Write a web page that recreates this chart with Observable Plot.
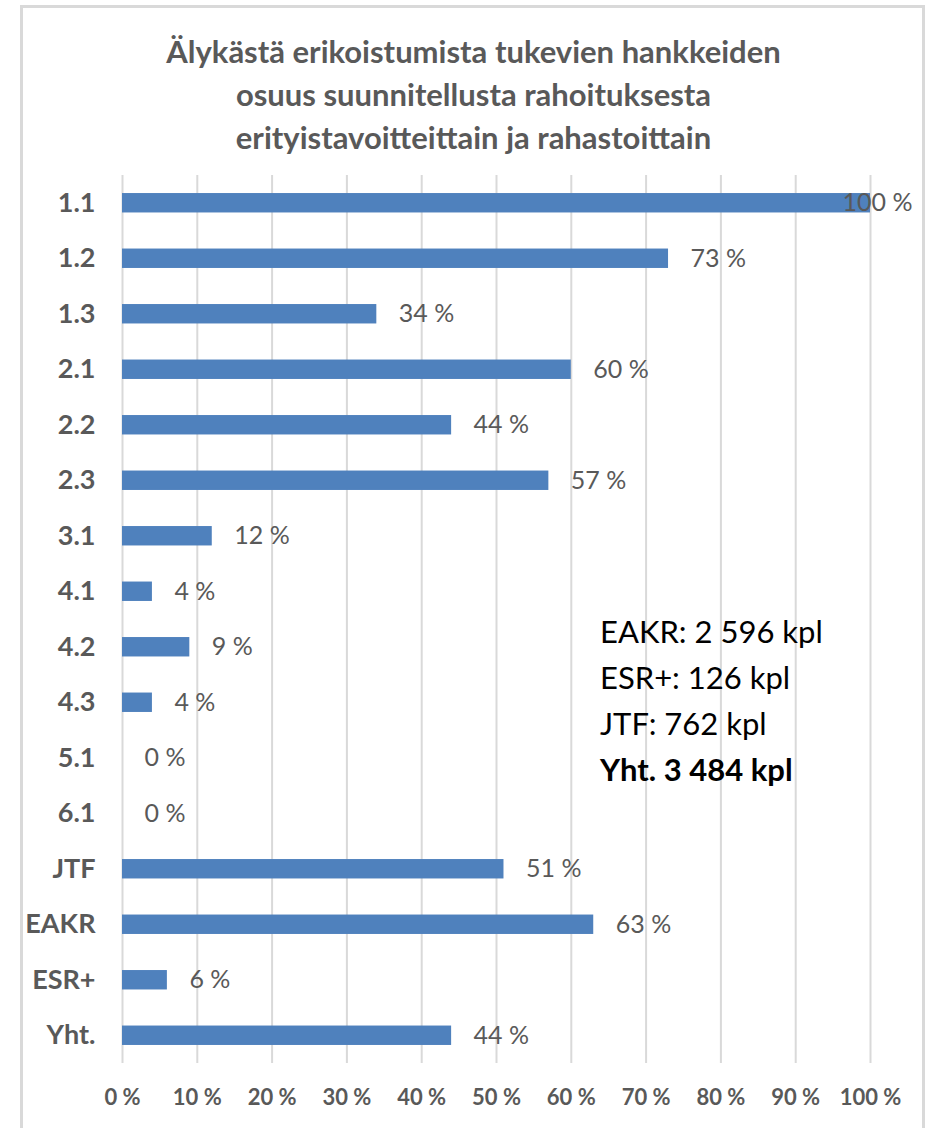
<!DOCTYPE html>
<html>
<head>
<meta charset="utf-8">
<script src="https://cdn.jsdelivr.net/npm/d3@7"></script>
<script src="https://cdn.jsdelivr.net/npm/@observablehq/plot@0.6"></script>
<style>
  html, body { margin: 0; padding: 0; background: #fff; }
  #page { position: relative; width: 935px; height: 1128px; overflow: hidden; font-family: Lato, "Open Sans", sans-serif; }
  #frame { position: absolute; left: 20px; top: 5px; width: 905px; height: 1140px; border: 3px solid #d9d9d9; box-sizing: border-box; }
  #title { position: absolute; left: 22px; width: 903px; top: 30px; text-align: center; font-weight: bold; font-size: 31px; line-height: 43px; color: #595959; }
  #chart { position: absolute; left: 0; top: 165px; }
  #note { position: absolute; left: 600px; top: 608px; font-size: 31px; line-height: 46px; color: #000; }
</style>
</head>
<body>
<div id="page">
  <div id="frame"></div>
  <div id="title">Älykästä erikoistumista tukevien hankkeiden<br>osuus suunnitellusta rahoituksesta<br>erityistavoitteittain ja rahastoittain</div>
  <div id="chart"></div>
  <div id="note">EAKR: 2 596 kpl<br>ESR+: 126 kpl<br>JTF: 762 kpl<br><b>Yht. 3 484 kpl</b></div>
</div>
<script>
const categories = ["1.1","1.2","1.3","2.1","2.2","2.3","3.1","4.1","4.2","4.3","5.1","6.1","JTF","EAKR","ESR+","Yht."];
const values = [100,73,34,60,44,57,12,4,9,4,0,0,51,63,6,44];
const tickValues = [0,10,20,30,40,50,60,70,80,90,100];

const data = categories.map((c, i) => ({cat: c, value: values[i]}));

const chart = Plot.plot({
  width: 935,
  height: 953,
  marginLeft: 122,
  marginRight: 65,
  marginTop: 10,
  marginBottom: 55,
  style: {fontFamily: "Lato, 'Open Sans', sans-serif", color: "#595959", background: "transparent"},
  x: {domain: [0, 100], label: null},
  y: {domain: categories, paddingInner: 0.65, paddingOuter: 0.325, round: false, label: null},
  marks: [
    Plot.gridX(tickValues, {stroke: "#d9d9d9", strokeWidth: 2, strokeOpacity: 1}),
    Plot.barX(data, {x: "value", y: "cat", fill: "#4f81bd"}),
    Plot.text(data.filter(d => d.value < 100), {x: "value", y: "cat", text: d => d.value + " %", textAnchor: "start", dx: 22, fill: "#595959", fontSize: 25}),
    Plot.text(data.filter(d => d.value >= 100), {x: "value", y: "cat", text: d => d.value + " %", textAnchor: "end", dx: 42, fill: "#595959", fontSize: 25}),
    Plot.axisX(tickValues, {tickSize: 0, tickPadding: 26, tickFormat: d => d + " %", fontSize: 22, fontWeight: "bold", label: null}),
    Plot.axisY({tickSize: 0, tickPadding: 27, fontSize: 27, fontWeight: "bold", label: null})
  ]
});
document.getElementById("chart").appendChild(chart);
</script>
</body>
</html>
